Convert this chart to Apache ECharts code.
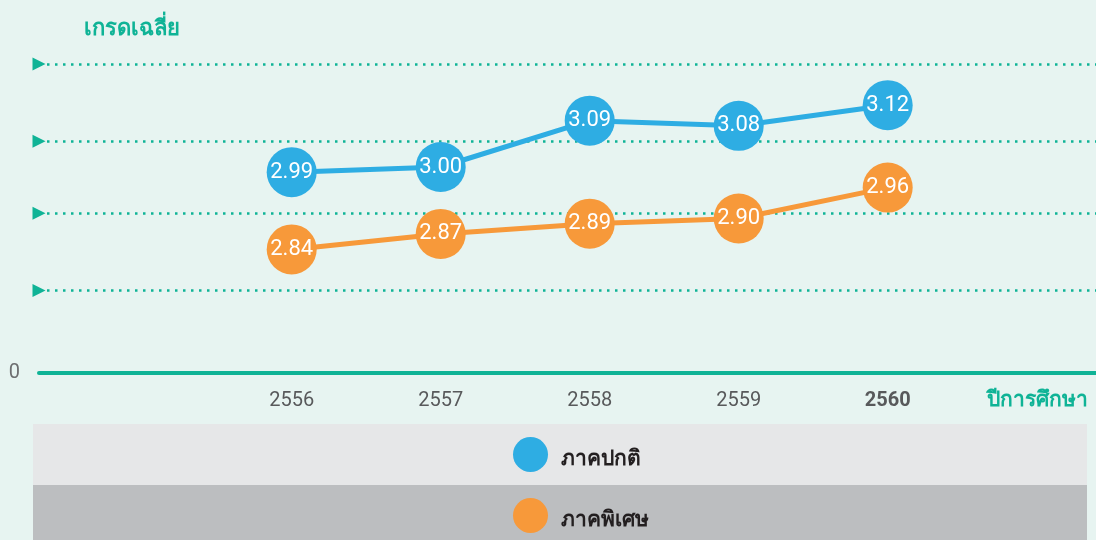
<!DOCTYPE html>
<html>
<head>
<meta charset="utf-8">
<script src="https://cdn.jsdelivr.net/npm/echarts@6.0.0/dist/echarts.min.js"></script>
<style>
  html, body { margin: 0; padding: 0; background: #e7f4f1; }
  #main { width: 1096px; height: 540px; }
</style>
</head>
<body>
<div id="main"></div>
<script>
// ปีการศึกษา
const years = [2556, 2557, 2558, 2559, 2560];
// เกรดเฉลี่ย ภาคปกติ / ภาคพิเศษ
const regularGpa = [2.99, 3.00, 3.09, 3.08, 3.12];
const specialGpa = [2.84, 2.87, 2.89, 2.90, 2.96];
// dotted guide lines
const gridTicks = [2.763, 2.909, 3.054, 3.2];
const seriesNames = ['ภาคปกติ', 'ภาคพิเศษ'];

const teal = '#0fb396';
const blue = '#2eade3';
const orange = '#f7993a';
const font = 'Roboto, "Noto Sans", sans-serif';

const myEChart = echarts.init(document.getElementById('main'));

function lineSeries(name, values, color) {
  return {
    name: name,
    type: 'line',
    data: years.map((y, i) => [y, values[i]]),
    symbol: 'circle',
    symbolSize: 50,
    z: 3,
    lineStyle: { width: 5, color: color },
    itemStyle: { color: color },
    label: {
      show: true,
      position: 'inside',
      color: '#fff',
      fontSize: 22,
      fontFamily: font,
      formatter: p => p.value[1].toFixed(2)
    },
    emphasis: { disabled: true }
  };
}

const s1 = lineSeries(seriesNames[0], regularGpa, blue);
// เส้นประ + สามเหลี่ยม
s1.markLine = {
  silent: true,
  z: 1,
  symbol: ['triangle', 'none'],
  symbolSize: 13,
  symbolRotate: -90,
  label: { show: false },
  lineStyle: { color: teal, type: [2.5, 5.5], width: 2.5 },
  emphasis: { disabled: true },
  data: gridTicks.map(v => ({ yAxis: v }))
};
const s2 = lineSeries(seriesNames[1], specialGpa, orange);

const legendBase = {
  left: 513,
  padding: 0,
  icon: 'circle',
  itemWidth: 35,
  itemHeight: 36,
  selectedMode: false,
  formatter: name => '{t|' + name + '}',
  textStyle: {
    fontSize: 21, fontWeight: 'bold', color: '#231f20', fontFamily: font,
    rich: { t: { fontSize: 21, fontWeight: 'bold', color: '#231f20', fontFamily: font, padding: [10, 0, 0, 8] } }
  }
};

const option = {
  backgroundColor: '#e7f4f1',
  textStyle: { fontFamily: font },
  title: {
    text: 'เกรดเฉลี่ย',
    left: 79,
    top: 13,
    textStyle: { color: teal, fontSize: 22, fontWeight: 600, fontFamily: font }
  },
  graphic: [
    { type: 'rect', z: 0, shape: { x: 33, y: 424, width: 1054, height: 61 }, style: { fill: '#e6e7e8' } },
    { type: 'rect', z: 0, shape: { x: 33, y: 485, width: 1054, height: 55 }, style: { fill: '#bcbec0' } }
  ],
  legend: [
    Object.assign({}, legendBase, { top: 437, data: [seriesNames[0]] }),
    Object.assign({}, legendBase, { top: 498, data: [seriesNames[1]] })
  ],
  grid: { left: 39, right: 0, top: 64, bottom: 167 },
  xAxis: {
    type: 'value',
    min: 2554.304,
    max: 2561.398,
    name: 'ปีการศึกษา',
    nameLocation: 'end',
    nameGap: -8,
    nameTextStyle: {
      color: teal, fontSize: 21, fontWeight: 600, fontFamily: font,
      align: 'right', verticalAlign: 'top', padding: [17, 0, 0, 0]
    },
    axisLine: { lineStyle: { color: teal, width: 4, cap: 'round' } },
    axisTick: { show: false },
    splitLine: { show: false },
    axisLabel: {
      customValues: years,
      margin: 18,
      fontSize: 20,
      color: '#58595b',
      formatter: v => v === years[years.length - 1] ? '{b|' + v + '}' : String(v),
      rich: { b: { fontSize: 20, fontWeight: 'bold', color: '#58595b', fontFamily: font } }
    }
  },
  yAxis: {
    type: 'value',
    min: 2.6,
    max: 3.2,
    axisLine: { show: false },
    axisTick: { show: false },
    splitLine: { show: false },
    axisLabel: {
      customValues: [2.6],
      formatter: () => '0',
      margin: 19,
      fontSize: 20,
      color: '#6d6e70'
    }
  },
  series: [s1, s2]
};

myEChart.setOption(option);
window.addEventListener('resize', function () {
  myEChart.resize();
});
</script>
</body>
</html>
